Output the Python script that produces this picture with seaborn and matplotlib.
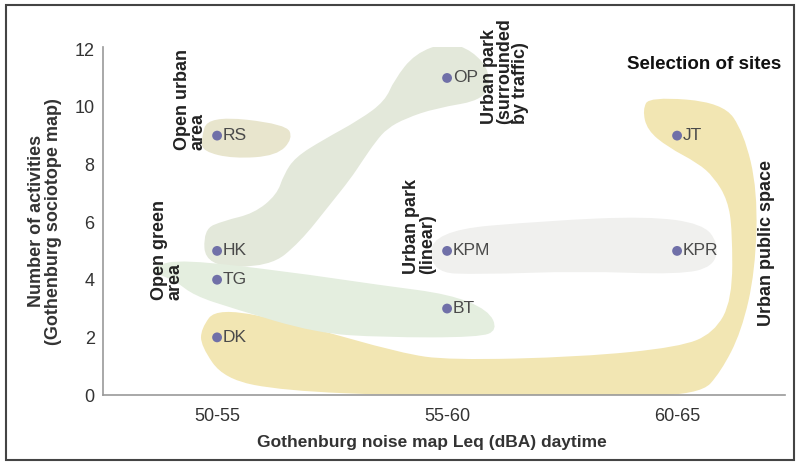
import numpy as np
import pandas as pd
import seaborn as sns
import matplotlib.pyplot as plt
from matplotlib.path import Path
from matplotlib.patches import PathPatch, Rectangle

# sites: noise class (index into noise_labels) and number of activities
sites = ['RS', 'HK', 'TG', 'DK', 'OP', 'KPM', 'BT', 'JT', 'KPR']
noise_class = [0, 0, 0, 0, 1, 1, 1, 2, 2]
activities = [9, 5, 4, 2, 11, 5, 3, 9, 5]
noise_labels = ['50-55', '55-60', '60-65']

# outlines of the shaded groups (noise class, activities)
public_x = [1.85, 1.88, 2.20, 2.29, 2.35, 2.34, 2.28, 2.19, 2.10, 1.66, 1.23, 0.80, 0.29, 0.03,
            -0.07, -0.07, 0.0, 0.36, 0.80, 1.01, 1.58, 2.01, 2.16, 2.24, 2.24, 2.22, 2.16, 2.09, 1.96, 1.87]
public_y = [9.9, 10.35, 10.15, 9.1, 7.1, 4.3, 2.2, 0.8, 0.0, -0.05, -0.05, -0.02, 0.15, 0.55,
            1.7, 2.3, 3.05, 2.45, 1.45, 1.21, 1.32, 1.66, 2.15, 3.3, 5.72, 6.76, 7.56, 8.05, 8.6, 9.19]
park_x = [-0.06, -0.05, 0.23, 0.36, 0.49, 0.58, 0.63, 0.69, 0.74, 0.82, 0.95, 1.17, 1.19,
          1.11, 1.00, 0.86, 0.77, 0.73, 0.62, 0.46, 0.34, 0.29, 0.26, 0.16, 0.03]
park_y = [5.75, 4.45, 4.45, 5.3, 6.6, 7.5, 8.1, 8.8, 9.25, 9.6, 9.95, 10.25, 11.2,
          11.95, 12.25, 11.85, 10.93, 10.2, 9.55, 8.85, 8.25, 7.65, 6.95, 6.3, 6.05]
urban_x = [-0.07, -0.04, 0.30, 0.33, 0.26, 0.07, -0.06]
urban_y = [8.84, 9.7, 9.4, 8.9, 8.3, 8.2, 8.45]
green_x = [-0.27, -0.15, 0.29, 0.72, 1.01, 1.18, 1.22, 1.14, 0.72, 0.43, 0.07, -0.10, -0.18, -0.28]
green_y = [4.5, 4.7, 4.3, 3.8, 3.5, 2.95, 2.25, 2.0, 2.0, 2.15, 3.0, 3.45, 3.95, 4.27]
linear_x = [0.93, 1.44, 1.87, 2.11, 2.18, 2.16, 2.01, 1.58, 1.14, 0.93]
linear_y = [5.7, 6.05, 6.2, 5.95, 5.27, 4.45, 4.18, 4.3, 4.18, 4.25]

group_x = [public_x, park_x, urban_x, green_x, linear_x]
group_y = [public_y, park_y, urban_y, green_y, linear_y]
group_colors = ['#f2e6b3', '#e3e8da', '#e8e5cd', '#e4eedf', '#f0f0ee']


def smooth_blob(xs, ys):
    # closed quadratic B-spline through the midpoints of the outline
    pts = np.column_stack([xs, ys])
    n = len(pts)
    mids = (pts + np.roll(pts, -1, axis=0)) / 2
    verts = [mids[-1]]
    codes = [Path.MOVETO]
    for i in range(n):
        verts += [pts[i], mids[i]]
        codes += [Path.CURVE3, Path.CURVE3]
    return Path(verts, codes)


df = pd.DataFrame({'site': sites, 'noise': noise_class, 'activities': activities})

sns.set_style('white')
plt.rcParams['font.family'] = ['Liberation Sans', 'DejaVu Sans']

fig = plt.figure(figsize=(7.96, 4.62), dpi=100)
ax = fig.add_axes([0.1294, 0.145, 0.857, 0.753])

for xs, ys, c in zip(group_x, group_y, group_colors):
    ax.add_patch(PathPatch(smooth_blob(xs, ys), facecolor=c, edgecolor='none', zorder=1))

sns.scatterplot(data=df, x='noise', y='activities', color='#7070a8', s=50,
                edgecolor='none', ax=ax, zorder=3)
for s, x, y in zip(sites, noise_class, activities):
    ax.text(x + 0.025, y, s, fontsize=12.5, color='#4a4a4a', va='center', ha='left', zorder=4)

# group names
kw = dict(rotation=90, fontsize=13, fontweight='bold', color='#222222',
          linespacing=0.88, ha='center', va='bottom', multialignment='left')
ax.text(-0.115, 8.5, 'Open urban\narea', **kw)
ax.text(-0.215, 3.3, 'Open green\narea', **kw)
ax.text(0.88, 4.2, 'Urban park\n(linear)', **kw)
ax.text(1.25, 9.4, 'Urban park\n(surrounded\nby traffic)', **kw)
ax.text(2.39, 2.4, 'Urban public space', **kw)
ax.text(2.455, 11.45, 'Selection of sites', fontsize=13.5, fontweight='bold',
        color='#111111', ha='right', va='center')

ax.set_xlim(-0.496, 2.47)
ax.set_ylim(0, 12.07)
ax.set_xticks(range(len(noise_labels)))
ax.set_xticklabels(noise_labels)
ax.set_yticks(range(0, 13, 2))
ax.tick_params(direction='in', length=5, color='#999999', labelsize=13,
               labelcolor='#333333', pad=6)
ax.tick_params(axis='x', pad=9)
for side in ['top', 'right']:
    ax.spines[side].set_visible(False)
for side in ['left', 'bottom']:
    ax.spines[side].set_color('#999999')
    ax.spines[side].set_linewidth(1.2)

ax.set_xlabel('Gothenburg noise map Leq (dBA) daytime', fontsize=12.5,
              fontweight='bold', color='#333333', labelpad=4)
ax.xaxis.set_label_coords(0.482, -0.115)
ax.set_ylabel('Number of activities\n(Gothenburg sociotope map)', fontsize=13,
              fontweight='bold', color='#333333', labelpad=9, linespacing=1.0)

fig.patches.append(Rectangle((0.007, 0.005), 0.99, 0.985, transform=fig.transFigure,
                             fill=False, edgecolor='#444444', linewidth=1.5))

fig.savefig('out.png', dpi=100)
